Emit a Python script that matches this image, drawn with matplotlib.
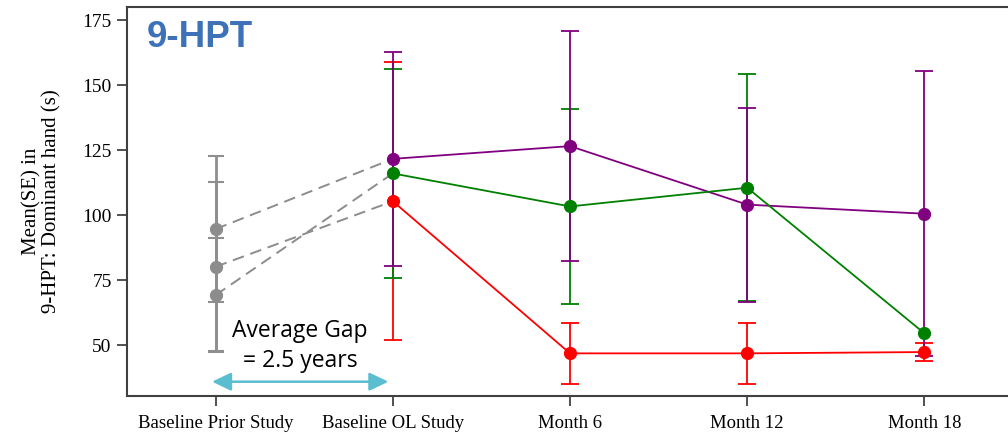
import numpy as np
import matplotlib
matplotlib.use("Agg")
import matplotlib.pyplot as plt

# ---- data ----
categories = ["Baseline Prior Study", "Baseline OL Study", "Month 6", "Month 12", "Month 18"]

prior_means = [94.6, 80.1, 69.2]
prior_se = [28.2, 32.5, 21.8]
# which OL series each prior point connects to
prior_links = ["purple", "red", "green"]

purple_mean = [121.6, 126.5, 104.0, 100.5]
purple_se = [41.2, 44.2, 37.3, 54.8]
green_mean = [116.0, 103.3, 110.5, 54.5]
green_se = [40.2, 37.5, 43.7, np.nan]
red_mean = [105.3, 46.8, 46.8, 47.3]
red_se = [53.5, 11.7, 11.7, 3.6]

title_text = "9-HPT"
gap_text = "Average Gap\n= 2.5 years"
ylabel_text = "Mean(SE) in\n9-HPT: Dominant hand (s)"
yticks = [50, 75, 100, 125, 150, 175]

# ---- figure ----
fig = plt.figure(figsize=(10.08, 4.36), dpi=100)
ax = fig.add_axes([127 / 1008, 40 / 436, 886 / 1008, 389 / 436])

x_all = np.arange(len(categories))
x_ol = x_all[1:]

colors = {"purple": "#800080", "green": "#008000", "red": "#ff0000"}
series = {
    "purple": (purple_mean, purple_se),
    "green": (green_mean, green_se),
    "red": (red_mean, red_se),
}

# dashed gray links
for pm, link in zip(prior_means, prior_links):
    ax.plot([x_all[0], x_all[1]], [pm, series[link][0][0]], color="#8c8c8c",
            lw=1.4, ls=(0, (6, 3.5)), zorder=2)

# gray prior error bars
ax.errorbar([x_all[0]] * len(prior_means), prior_means, yerr=prior_se, fmt="none",
            ecolor="#8f8f8f", elinewidth=2.0, capsize=6, capthick=1.5, zorder=3)

# colored error bars (red, green, purple order)
for name in ["red", "green", "purple"]:
    m, s = series[name]
    ax.errorbar(x_ol, m, yerr=s, fmt="none", ecolor=colors[name], elinewidth=1.3,
                capsize=6.5, capthick=1.3, zorder=4)

# lines + markers
for name in ["purple", "green", "red"]:
    m, s = series[name]
    ax.plot(x_ol, m, color=colors[name], lw=1.3, marker="o", ms=8.5, zorder=5)

ax.plot([x_all[0]] * len(prior_means), prior_means, ls="none", marker="o",
        ms=8.5, color="#8c8c8c", zorder=6)

# arrow
ax.annotate("", xy=(0.975, 35.9), xytext=(-0.02, 35.9),
            arrowprops=dict(arrowstyle="<|-|>,head_length=1.15,head_width=0.55",
                            color="#5bbdd0", lw=1.8, shrinkA=0, shrinkB=0),
            zorder=7)
ax.text(0.476, 41.5, gap_text, ha="center", va="baseline", fontsize=16.5,
        family="Open Sans", linespacing=1.35, color="black", zorder=7)

ax.text(0.0226, 0.898, title_text, transform=ax.transAxes, fontsize=26.5,
        fontweight="bold", family="Liberation Sans", color="#3d72b8")

# axes styling
ax.set_xlim(-0.5, 4.5)
ax.set_ylim(30.4, 180)
ax.set_xticks(x_all)
ax.set_xticklabels(categories, family="Liberation Serif", fontsize=13.5)
ax.set_yticks(yticks)
ax.set_yticklabels([str(t) for t in yticks], family="Liberation Serif", fontsize=14)
ax.tick_params(direction="out", length=7.5, width=1.2, color="#333333")
ax.tick_params(axis="y", pad=3.5)
ax.tick_params(axis="x", pad=6)
for sp in ax.spines.values():
    sp.set_color("#404040")
    sp.set_linewidth(1.5)

fig.text(42 / 1008, 1 - 201 / 436, ylabel_text, rotation=90, ha="center", va="center",
         family="Liberation Serif", fontsize=15, linespacing=1.05)

fig.savefig("out.png", dpi=100)
